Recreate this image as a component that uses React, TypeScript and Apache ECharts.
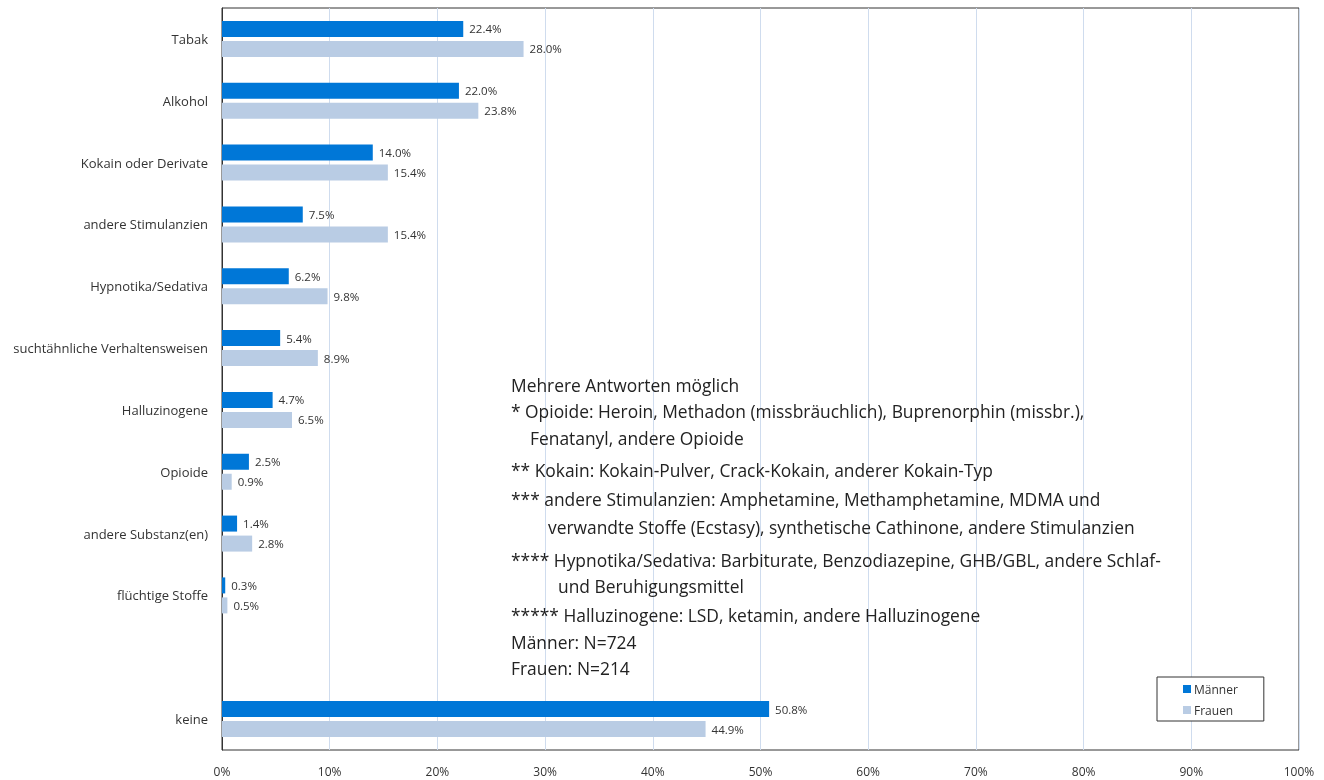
import React, { useEffect, useRef } from "react";
import * as echarts from "echarts";

const categories = [
  "Tabak",
  "Alkohol",
  "Kokain oder Derivate",
  "andere Stimulanzien",
  "Hypnotika/Sedativa",
  "suchtähnliche Verhaltensweisen",
  "Halluzinogene",
  "Opioide",
  "andere Substanz(en)",
  "flüchtige Stoffe",
  "",
  "keine",
];
const maenner = [22.4, 22.0, 14.0, 7.5, 6.2, 5.4, 4.7, 2.5, 1.4, 0.3, null, 50.8];
const frauen = [28.0, 23.8, 15.4, 15.4, 9.8, 8.9, 6.5, 0.9, 2.8, 0.5, null, 44.9];

const notes: [string, number, number][] = [
  ["Mehrere Antworten möglich", 511, 385],
  ["* Opioide: Heroin, Methadon (missbräuchlich), Buprenorphin (missbr.),", 511, 411],
  ["Fenatanyl, andere Opioide", 530, 438],
  ["** Kokain: Kokain-Pulver, Crack-Kokain, anderer Kokain-Typ", 511, 470],
  ["*** andere Stimulanzien: Amphetamine, Methamphetamine, MDMA und", 511, 499],
  ["verwandte Stoffe (Ecstasy), synthetische Cathinone, andere Stimulanzien", 548, 527],
  ["**** Hypnotika/Sedativa: Barbiturate, Benzodiazepine, GHB/GBL, andere Schlaf-", 511, 560],
  ["und Beruhigungsmittel", 558, 586],
  ["***** Halluzinogene: LSD, ketamin, andere Halluzinogene", 511, 615],
  ["Männer: N=724", 511, 642],
  ["Frauen: N=214", 511, 668],
];

const FONT = "'Open Sans', sans-serif";

export default function App() {
  const ref = useRef<HTMLDivElement>(null);
  useEffect(() => {
    const chart = echarts.init(ref.current!, null, { renderer: "svg" });
    const label = {
      show: true,
      position: "right" as const,
      distance: 6,
      color: "#333",
      fontSize: 11.5,
      fontFamily: FONT,
      formatter: (p: any) => p.value.toFixed(1) + "%",
    };
    chart.setOption({
      animation: false,
      textStyle: { fontFamily: FONT },
      grid: {
        left: 222,
        top: 8,
        width: 1077,
        height: 742,
        show: true,
        borderColor: "#333",
        borderWidth: 1,
      },
      legend: {
        orient: "vertical",
        left: 1157,
        top: 677,
        data: ["Männer", "Frauen"],
        icon: "rect",
        itemWidth: 8,
        itemHeight: 8,
        itemGap: 9,
        padding: [6, 26, 5, 26],
        borderColor: "#333",
        borderWidth: 1,
        borderRadius: 0,
        backgroundColor: "#fff",
        textStyle: { fontSize: 12, color: "#333", fontFamily: FONT, padding: [0, 0, 0, -2] },
      },
      xAxis: {
        type: "value",
        min: 0,
        max: 100,
        interval: 10,
        axisLabel: {
          formatter: "{value}%",
          fontSize: 12,
          color: "#333",
          margin: 15,
          fontFamily: FONT,
        },
        splitLine: { lineStyle: { color: "#cfdcee", width: 1 } },
        axisLine: { show: false },
        axisTick: { show: false },
      },
      yAxis: {
        type: "category",
        data: categories,
        inverse: true,
        axisLine: { lineStyle: { color: "#333" } },
        axisTick: { show: false },
        axisLabel: { fontSize: 13, color: "#333", margin: 14, fontFamily: FONT },
      },
      series: [
        {
          name: "Männer",
          type: "bar",
          data: maenner,
          barWidth: 16,
          barGap: "25%",
          itemStyle: { color: "#0077d7" },
          label,
        },
        {
          name: "Frauen",
          type: "bar",
          data: frauen,
          barWidth: 16,
          itemStyle: { color: "#b9cce4" },
          label,
        },
      ],
      graphic: notes.map(([t, x, y]) => ({
        type: "text",
        x,
        y,
        z: 100,
        style: {
          text: t,
          fontSize: 17.4,
          fontFamily: FONT,
          fill: "#222",
          textVerticalAlign: "middle",
        },
      })),
    });
    return () => chart.dispose();
  }, []);
  return (
    <div
      ref={ref}
      style={{ position: "fixed", left: 0, top: 0, width: 1324, height: 780 }}
    />
  );
}
